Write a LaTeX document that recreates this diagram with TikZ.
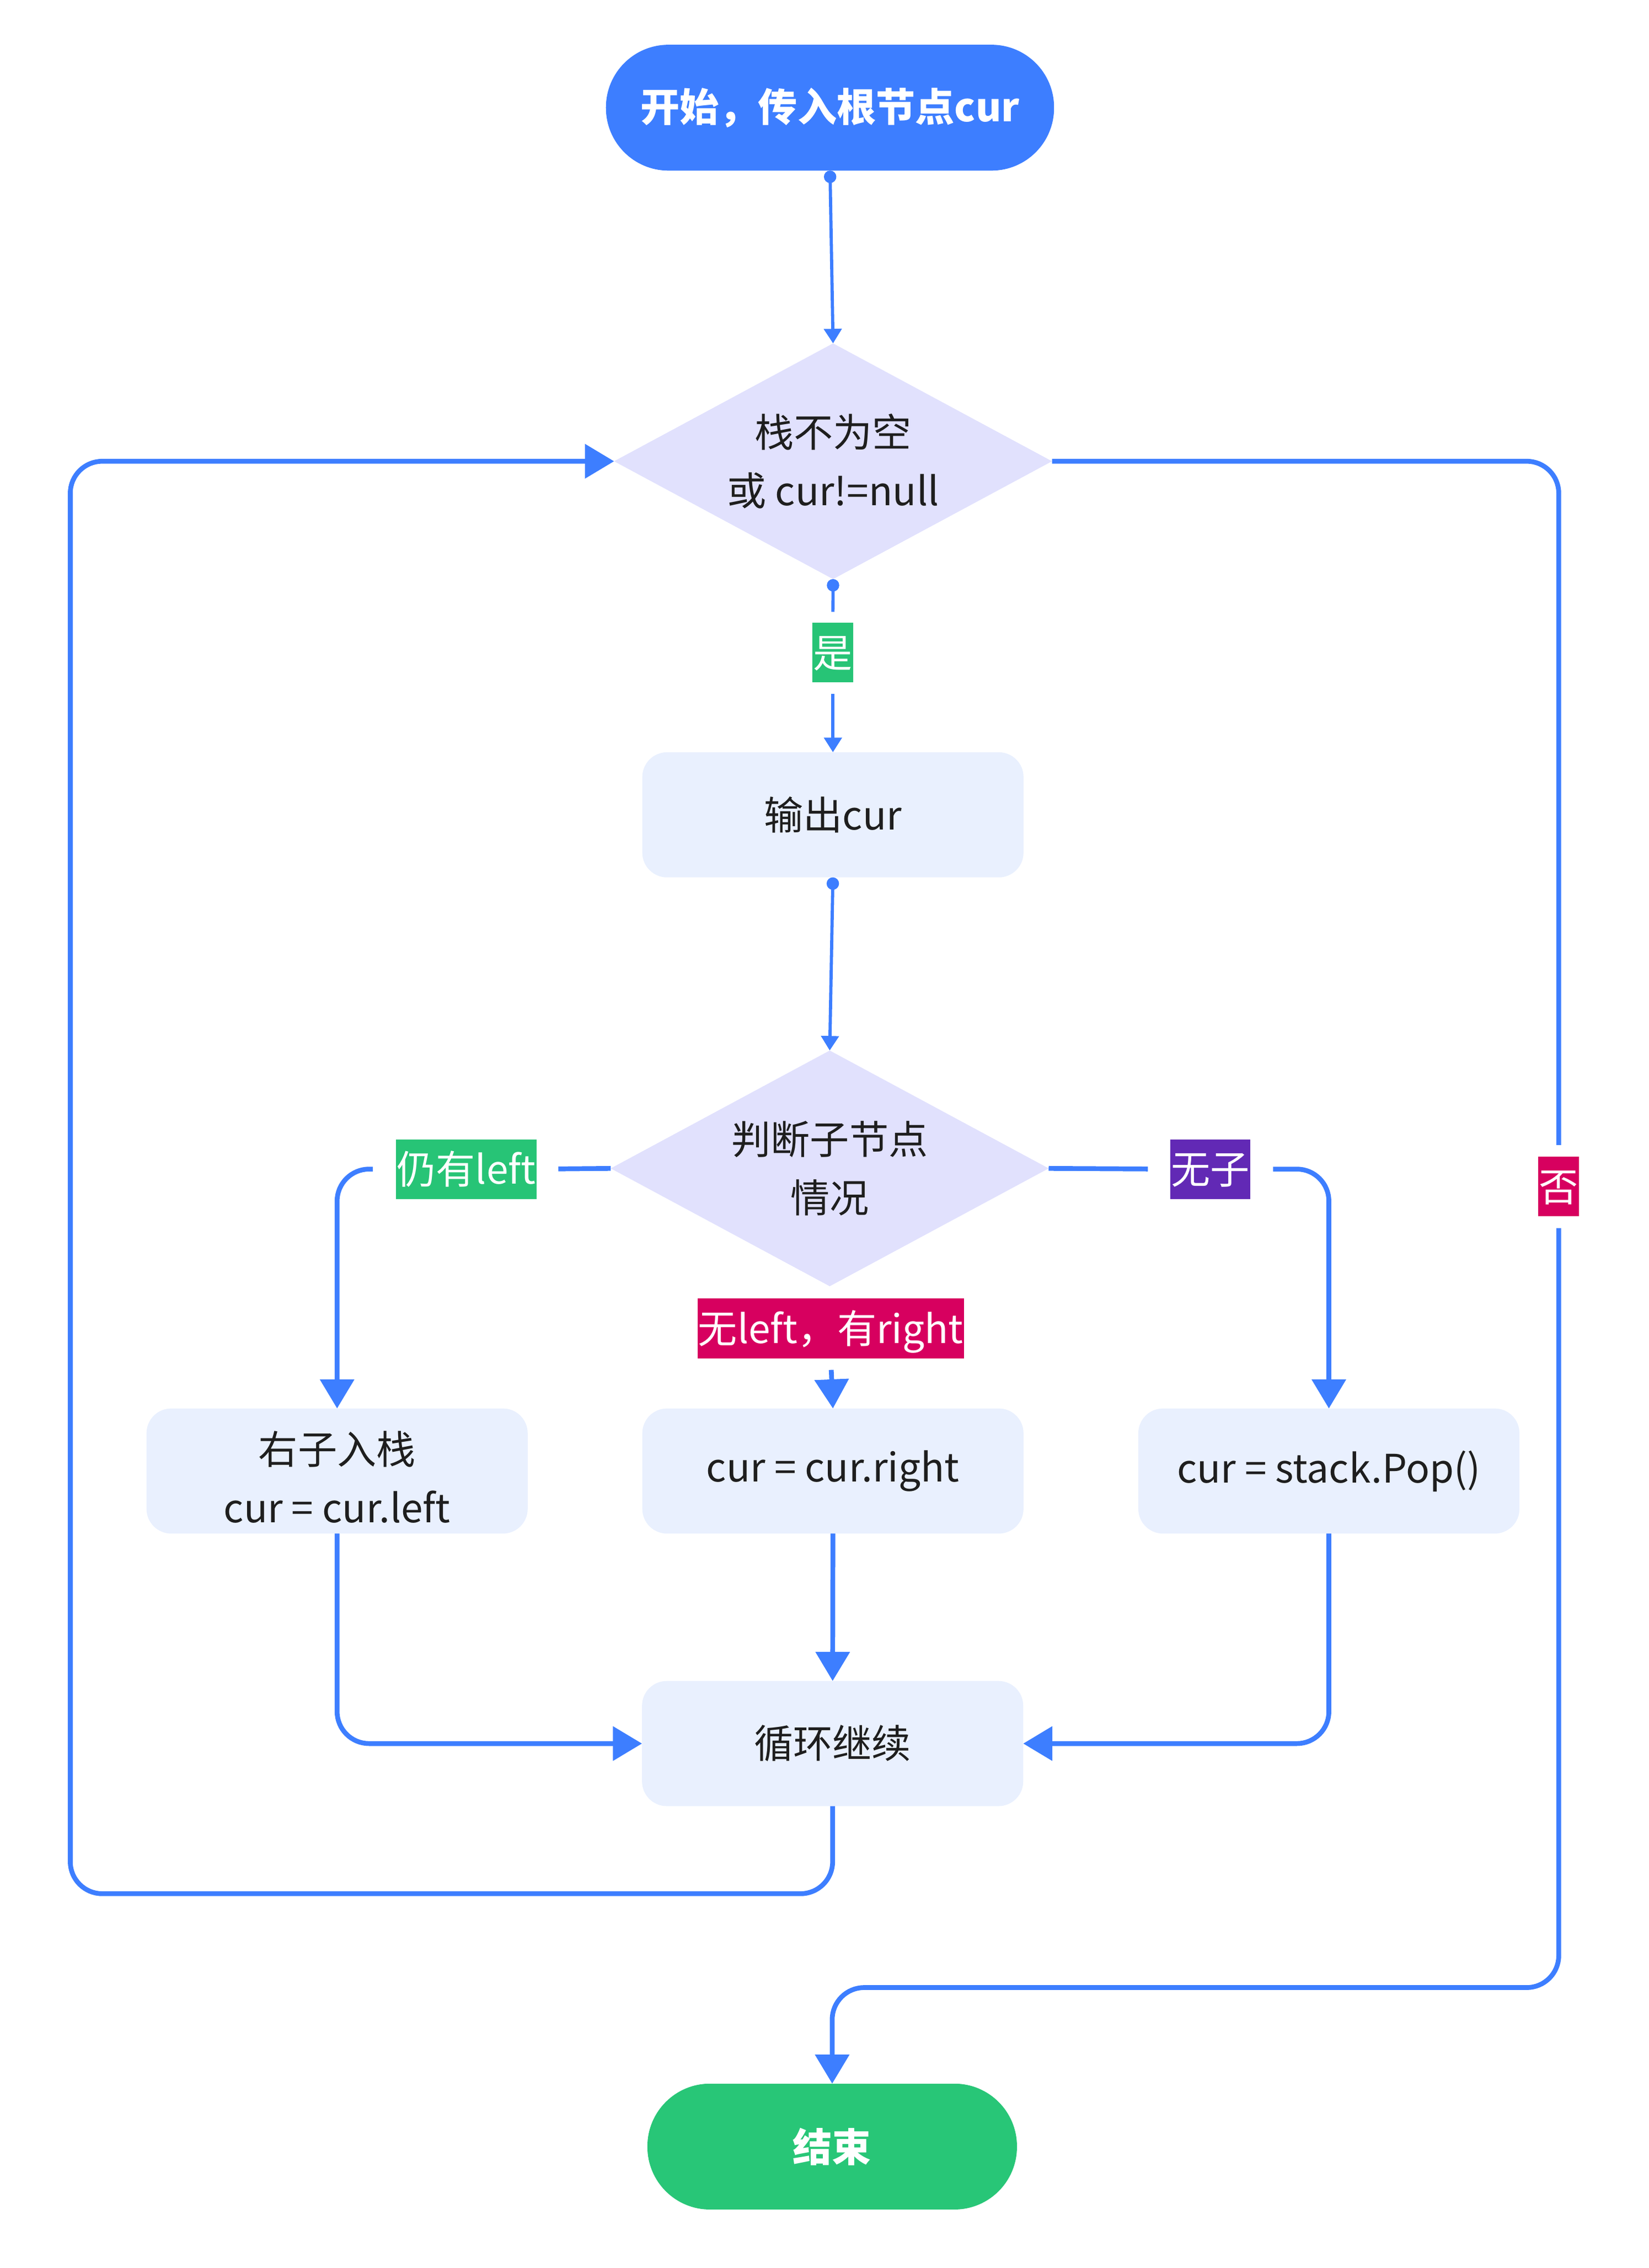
\documentclass[tikz,border=0pt]{standalone}
\usepackage{fontspec}
\setmainfont{Noto Sans CJK SC}
\usetikzlibrary{arrows.meta,shapes.geometric,calc}
\definecolor{startblue}{HTML}{3D7EFF}
\definecolor{lineblue}{HTML}{3D7EFF}
\definecolor{diafill}{HTML}{E1E1FD}
\definecolor{boxfill}{HTML}{E9F0FE}
\definecolor{endgreen}{HTML}{28C677}
\definecolor{taggreen}{HTML}{27C476}
\definecolor{tagred}{HTML}{D7005F}
\definecolor{tagpurple}{HTML}{6229B5}
\definecolor{textdark}{HTML}{1E1E1E}
\begin{document}
\begin{tikzpicture}[x=1pt,y=-1pt,
  every node/.style={font=\fontsize{27}{40}\selectfont, text=textdark, inner sep=0pt, outer sep=0pt},
  terminal/.style={rectangle, rounded corners=43pt, minimum width=#1, minimum height=86.5pt,
    font=\fontsize{27}{40}\selectfont\bfseries, text=white},
  procbox/.style={rectangle, rounded corners=17pt, fill=boxfill, minimum width=262pt, minimum height=86pt, align=center},
  decision/.style={diamond, aspect=2, fill=diafill, minimum width=301pt, minimum height=162pt, align=center},
  tag/.style={text=white, inner xsep=0.5pt, inner ysep=7pt, text height=23.8pt, text depth=3.2pt},
  thinflow/.style={draw=lineblue, line width=2.2pt},
  dotstart/.style={{Circle[length=8.5pt,width=8.5pt]}-},
  smalltip/.style={-{Triangle[length=10pt,width=12pt]}},
  dotsmalltip/.style={{Circle[length=8.5pt,width=8.5pt]}-{Triangle[length=10pt,width=12pt]}},
  flowline/.style={draw=lineblue, line width=3.3pt, rounded corners=22pt},
  bigtip/.style={-{Triangle[length=20pt,width=23pt]}}
]
\useasboundingbox (0,0) rectangle (1133.06,1558.76);
% nodes
\node[terminal=308pt, fill=startblue] (start) at (570.5,74) {开始，传入根节点cur};
\node[decision] (d1) at (572.6,317) {栈不为空\\或 cur!=null};
\node[procbox] (out) at (572.5,560) {输出cur};
\node[decision] (d2) at (570.3,803) {判断子节点\\情况};
\node[procbox] (b1) at (231.7,1011) {\rule{0pt}{31pt}右子入栈\\cur = cur.left};
\node[procbox] (b2) at (572.5,1011) {cur = cur.right};
\node[procbox] (b3) at (913.4,1011) {cur = stack.Pop()};
\node[procbox] (loop) at (572.3,1198.3) {循环继续};
\node[terminal=254pt, fill=endgreen] (end) at (572,1475.3) {结束};
% labels
\node[tag, fill=taggreen] (yes) at (572.5,448.5) {是};
\node[tag, fill=taggreen] (lleft) at (320.5,803.5) {仍有left};
\node[tag, fill=tagpurple] (none) at (832,803.5) {无子};
\node[tag, fill=tagred] (rright) at (571,913) {无left，有right};
\node[tag, fill=tagred] (no) at (1071.4,815.5) {否};
\coordinate (lb) at (48.3,1301.5);
\coordinate (rb) at (1071.4,1366);
% thin connectors
\draw[thinflow, dotsmalltip] (start.south) -- (d1.north);
\draw[thinflow, dotstart, shorten >=7.5pt] (d1.south) -- (yes.north);
\draw[thinflow, smalltip, shorten <=8pt] (yes.south) -- (out.north);
\draw[thinflow, dotsmalltip] (out.south) -- (d2.north);
% thick connectors
\draw[flowline, shorten >=15pt] (d2.west) -- (lleft.east);
\draw[flowline, bigtip, shorten <=16pt] (lleft.west) -| (b1.north);
\draw[flowline, shorten >=15.5pt] (d2.east) -- (none.west);
\draw[flowline, bigtip, shorten <=15.5pt] (none.east) -| (b3.north);
\draw[flowline, bigtip, shorten <=8pt] (rright.south) -- (b2.north);
\draw[flowline, bigtip] (b2.south) -- (loop.north);
\draw[flowline, bigtip] (b1.south) |- (loop.west);
\draw[flowline, bigtip] (b3.south) |- (loop.east);
\draw[flowline, bigtip] (loop.south) |- (lb) |- (d1.west);
\draw[flowline, shorten >=8pt] (d1.east) -| (no.north);
\draw[flowline, bigtip, shorten <=8pt] (no.south) -- (rb) -| (end.north);
\end{tikzpicture}
\end{document}
